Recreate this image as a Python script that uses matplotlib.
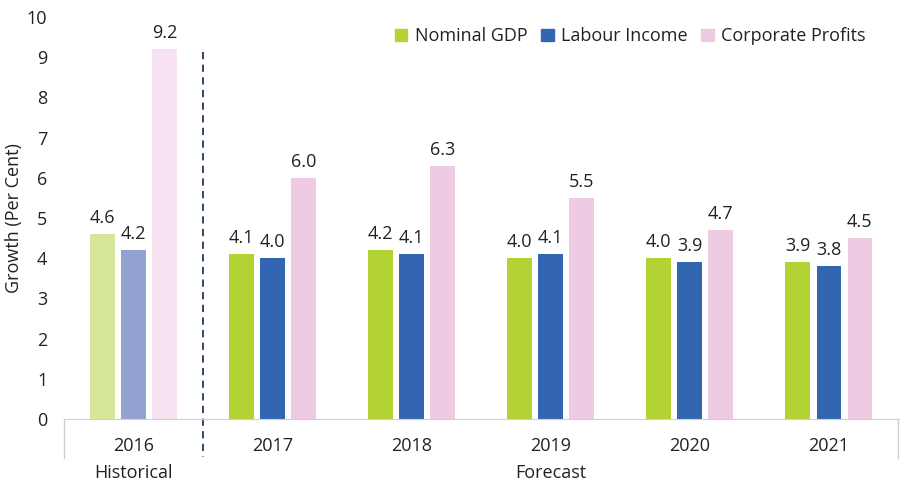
import numpy as np
import matplotlib.pyplot as plt
from matplotlib.patches import Patch

plt.rcParams['font.family'] = ['Open Sans', 'DejaVu Sans']

years = ['2016', '2017', '2018', '2019', '2020', '2021']
nominal_gdp = [4.6, 4.1, 4.2, 4.0, 4.0, 3.9]
labour_income = [4.2, 4.0, 4.1, 4.1, 3.9, 3.8]
corporate_profits = [9.2, 6.0, 6.3, 5.5, 4.7, 4.5]
series_names = ['Nominal GDP', 'Labour Income', 'Corporate Profits']

colors = ['#b3d334', '#3366b2', '#efcae3']
colors_hist = ['#d6e69a', '#94a2d2', '#f6e2f0']

fig = plt.figure(figsize=(9, 5), dpi=100)
ax = fig.add_axes([0.071, 0.162, 0.927, 0.804])

x = np.arange(len(years))
w = 0.175
pitch = 0.223
series = [nominal_gdp, labour_income, corporate_profits]
for i, vals in enumerate(series):
    cols = [colors_hist[i]] + [colors[i]] * (len(years) - 1)
    pos = x + (i - 1) * pitch
    ax.bar(pos, vals, width=w, color=cols)
    for p, v in zip(pos, vals):
        ax.text(p, v + 0.18, '%.1f' % v, ha='center', va='bottom', fontsize=13, color='#222222')

ax.set_xlim(-0.5, len(years) - 0.5)
ax.set_ylim(0, 10)
ax.set_yticks(range(0, 11))
ax.tick_params(axis='y', length=0, labelsize=13, pad=12, colors='#222222')
ax.set_xticks([])
for s in ['top', 'right', 'left']:
    ax.spines[s].set_visible(False)
ax.spines['bottom'].set_color('#d0d0d0')
ax.set_ylabel('Growth (Per Cent)', fontsize=13, color='#222222', labelpad=3)

# category labels and frame lines below the axis
tr = ax.get_xaxis_transform()
for xi, yr in zip(x, years):
    ax.text(xi, -0.066, yr, transform=tr, ha='center', va='center',
            fontsize=13, color='#222222')
ax.text(0, -0.134, 'Historical', transform=tr, ha='center', va='center',
        fontsize=13, color='#222222')
ax.text(3, -0.134, 'Forecast', transform=tr, ha='center', va='center',
        fontsize=13, color='#222222')
for xv in [-0.5, len(years) - 0.5]:
    ax.plot([xv, xv], [0, -0.097], transform=tr, color='#d0d0d0', lw=1, clip_on=False)
ax.plot([0.5, 0.5], [0.913, -0.095], transform=tr, color='#1f3a5f', lw=1.3,
        linestyle=(0, (4, 3)), clip_on=False)

handles = [Patch(color=c) for c in colors]
ax.legend(handles, series_names, loc='upper right', bbox_to_anchor=(0.98, 1.015), ncol=3,
          frameon=False, fontsize=13, handlelength=0.7, handleheight=0.7,
          handletextpad=0.4, columnspacing=0.75, labelcolor='#222222')

fig.savefig('out.png', dpi=100, facecolor='white')
